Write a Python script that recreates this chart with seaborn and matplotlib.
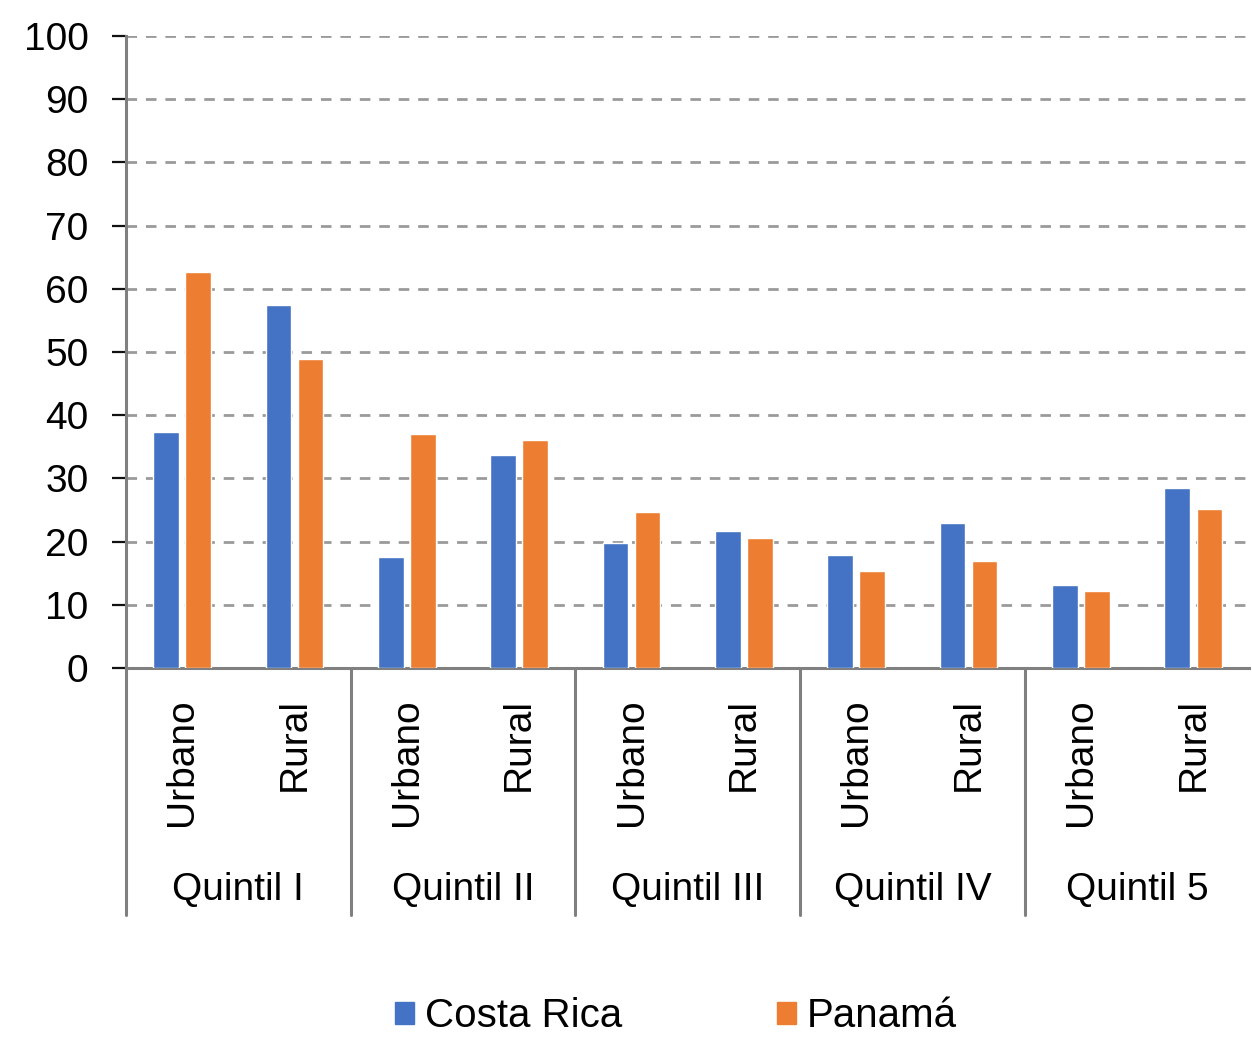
import pandas as pd
import matplotlib.pyplot as plt
import matplotlib.transforms as mtransforms
import seaborn as sns

# Dados
quintis = ["Quintil I", "Quintil II", "Quintil III", "Quintil IV", "Quintil 5"]
zonas = ["Urbano", "Rural"]
costa_rica = [37.4, 57.5, 17.5, 33.7, 19.8, 21.6, 17.9, 22.9, 13.1, 28.4]
panama = [62.7, 48.9, 37.0, 36.1, 24.7, 20.6, 15.3, 17.0, 12.1, 25.2]
paises = ["Costa Rica", "Panamá"]
cores = ["#4472C4", "#ED7D31"]

categorias = [f"{q}|{z}" for q in quintis for z in zonas]

df = pd.DataFrame({
    "categoria": categorias * 2,
    "valor": costa_rica + panama,
    "pais": [paises[0]] * len(categorias) + [paises[1]] * len(categorias),
})

sns.set_theme(style="white")
plt.rcParams["font.family"] = ["Liberation Sans", "DejaVu Sans"]
plt.rcParams["text.color"] = "black"
plt.rcParams["ytick.labelcolor"] = "black"

fig = plt.figure(figsize=(12.52, 10.38), dpi=100)
ax = fig.add_axes([0.1006, 0.3565, 0.8974, 0.6088])

sns.barplot(
    data=df, x="categoria", y="valor", hue="pais",
    order=categorias, hue_order=paises, palette=cores,
    width=0.57, gap=0.2, saturation=1, ax=ax, legend=False, zorder=3,
)

ax.set_xlim(-0.5, len(categorias) - 0.5)
ax.set_ylim(0, 100)
ax.set_yticks(range(0, 101, 10))
ax.tick_params(axis="y", direction="out", length=10, width=1.6, color="#111111",
               labelsize=28, labelcolor="black", pad=17, left=True)
ax.tick_params(axis="x", length=0, labelbottom=False)
ax.set_xlabel("")
ax.set_ylabel("")

# Grade tracejada
ax.yaxis.grid(True, color="#9a9a9a", linewidth=2.0, linestyle=(0, (3.8, 3.2)), zorder=0)
ax.set_axisbelow(True)

for lado in ["top", "right"]:
    ax.spines[lado].set_visible(False)
for lado in ["left", "bottom"]:
    ax.spines[lado].set_color("#808080")
    ax.spines[lado].set_linewidth(2.2)

# Rótulos em dois níveis no eixo X
trans = mtransforms.blended_transform_factory(ax.transData, ax.transAxes)
for i, cat in enumerate(categorias):
    zona = cat.split("|")[1]
    ax.text(i, -0.048, zona, rotation=90, ha="center", va="top",
            fontsize=28, color="black", transform=trans)

for j, q in enumerate(quintis):
    ax.text(j * 2 + 0.5, -0.351, q, ha="center", va="center",
            fontsize=28, color="black", transform=trans)

# Linhas separadoras entre quintis (a última fica fora da imagem)
for j in range(len(quintis)):
    ax.plot([j * 2 - 0.5, j * 2 - 0.5], [0, -0.391], color="#808080",
            linewidth=2.2, transform=trans, clip_on=False)

# Legenda
handles = [plt.Rectangle((0, 0), 1, 1, color=c) for c in cores]
fig.legend(handles, paises, loc="center", bbox_to_anchor=(0.54, 0.021),
           ncol=2, frameon=False, fontsize=29, handlelength=0.47,
           handleheight=0.47, handletextpad=0.27, columnspacing=3.85,
           borderaxespad=0, borderpad=0, labelcolor="black")

plt.savefig("out.png", dpi=100)
plt.close()
